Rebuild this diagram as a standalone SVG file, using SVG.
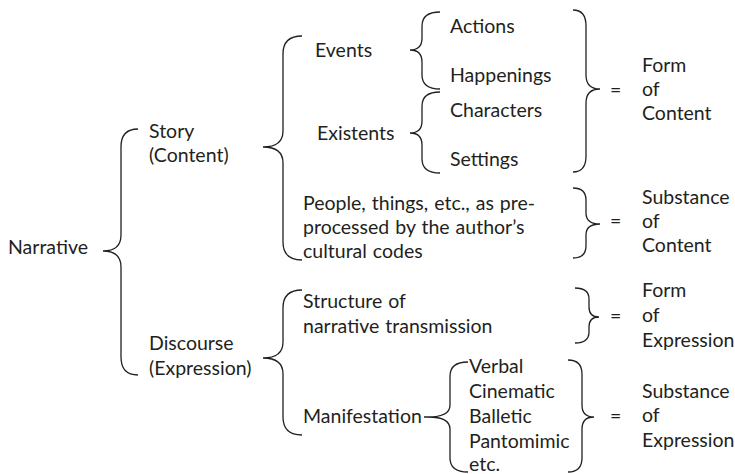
<svg xmlns="http://www.w3.org/2000/svg" width="735" height="474" viewBox="0 0 735 474">
<style>
text{font-family:Lato,"Liberation Sans",sans-serif;font-size:19.5px;fill:#231f20;word-spacing:1px}
.b{fill:none;stroke:#231f20;stroke-width:1.3}
</style>
<rect width="735" height="474" fill="#fff"/>
<g id="connectors">
<path class="b" d="M138,129 Q121,129 121,147 L121,235 Q121,251 103,251 Q121,251 121,267 L121,357 Q121,375 138,375"/>
<path class="b" d="M302,36 Q283,36 283,54 L283,131 Q283,147 263,147 Q283,147 283,163 L283,242 Q283,260 302,260"/>
<path class="b" d="M302,290 Q283,290 283,308 L283,342 Q283,358 263,358 Q283,358 283,374 L283,417 Q283,435 302,435"/>
<path class="b" d="M440,12 Q422,12 422,26 L422,38 Q422,50 410,50 Q422,50 422,62 L422,75 Q422,89 440,89"/>
<path class="b" d="M440,92 Q422,92 422,106 L422,121 Q422,133 410,133 Q422,133 422,145 L422,159 Q422,173 440,173"/>
<path class="b" d="M468,362 Q450,362 450,376 L450,405 Q450,417 428,417 L424,417 M428,417 Q450,417 450,429 L450,458 Q450,472 468,472"/>
<path class="b" d="M573,10 Q586,10 586,26 L586,75 Q586,89 600,89 Q586,89 586,103 L586,156 Q586,172 573,172"/>
<path class="b" d="M573,188 Q586,188 586,200 L586,213 Q586,224 600,224 Q586,224 586,235 L586,246 Q586,258 573,258"/>
<path class="b" d="M575,288 Q589,288 589,299 L589,307 Q589,317 599,317 Q589,317 589,327 L589,332 Q589,343 575,343"/>
<path class="b" d="M568,360 Q582,360 582,374 L582,405 Q582,417 594,417 Q582,417 582,429 L582,458 Q582,472 568,472"/>
</g>
<g id="narrative"><text x="8" y="254">Narrative</text></g>
<g id="story"><text x="149" y="138">Story</text><text x="149" y="162">(Content)</text></g>
<g id="discourse"><text x="149" y="350">Discourse</text><text x="149" y="375">(Expression)</text></g>
<g id="events"><text x="315" y="57">Events</text></g>
<g id="existents"><text x="317" y="140">Existents</text></g>
<g id="actions"><text x="450" y="33">Actions</text></g>
<g id="happenings"><text x="450" y="82">Happenings</text></g>
<g id="characters"><text x="450" y="117">Characters</text></g>
<g id="settings"><text x="450" y="166">Settings</text></g>
<g id="people"><text x="303" y="210">People, things, etc., as pre-</text><text x="303" y="234">processed by the author’s</text><text x="303" y="258">cultural codes</text></g>
<g id="form-content"><text x="610" y="97">=</text><text x="642" y="72">Form</text><text x="642" y="96">of</text><text x="642" y="120">Content</text></g>
<g id="substance-content"><text x="610" y="228">=</text><text x="642" y="204">Substance</text><text x="642" y="228">of</text><text x="642" y="252">Content</text></g>
<g id="structure"><text x="303" y="308">Structure of</text><text x="303" y="333">narrative transmission</text></g>
<g id="form-expression"><text x="610" y="323">=</text><text x="642" y="297">Form</text><text x="642" y="322">of</text><text x="642" y="347">Expression</text></g>
<g id="manifestation"><text x="303" y="423">Manifestation</text></g>
<g id="media"><text x="469" y="373">Verbal</text><text x="469" y="398">Cinematic</text><text x="469" y="423">Balletic</text><text x="469" y="448">Pantomimic</text><text x="469" y="471">etc.</text></g>
<g id="substance-expression"><text x="610" y="423">=</text><text x="642" y="398">Substance</text><text x="642" y="422">of</text><text x="642" y="447">Expression</text></g>
</svg>
